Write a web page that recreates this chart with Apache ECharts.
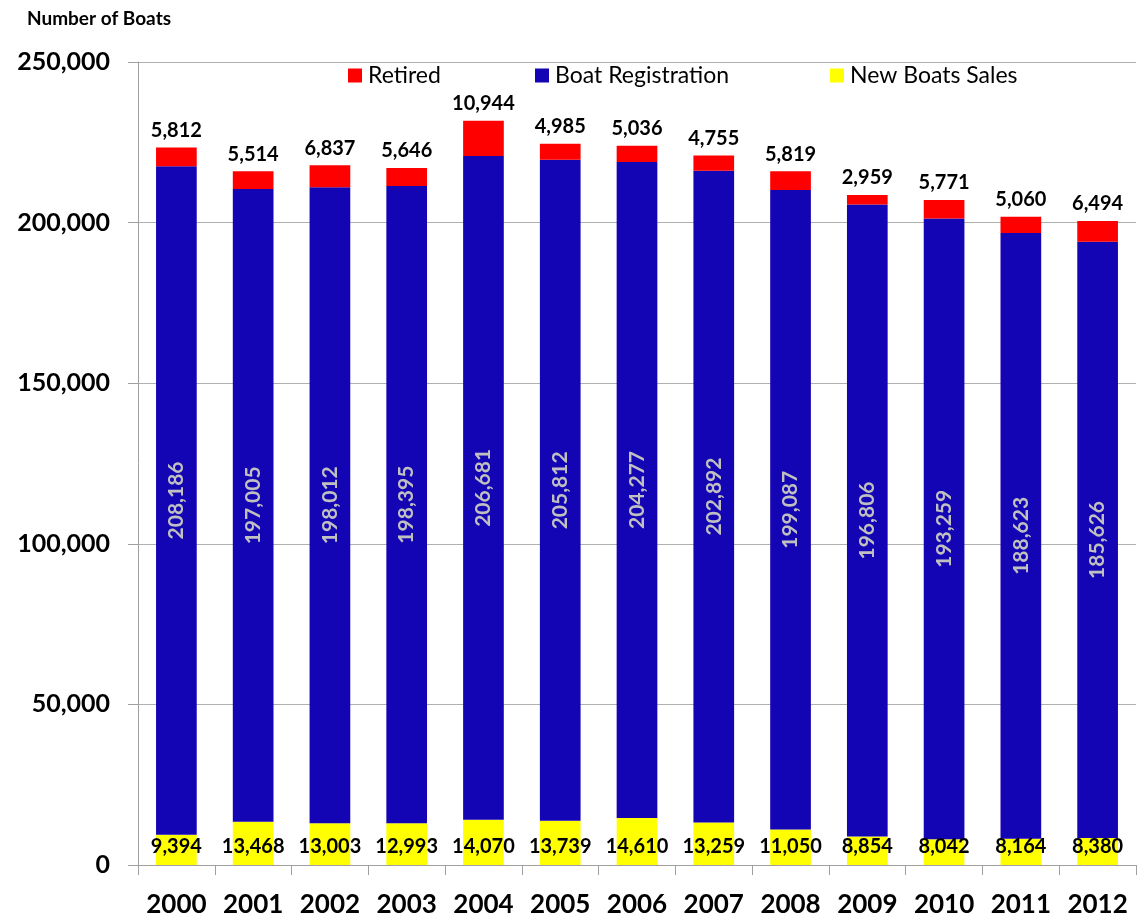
<!DOCTYPE html>
<html><head><meta charset="utf-8">
<script src="https://cdn.jsdelivr.net/npm/echarts@6/dist/echarts.min.js"></script>
<style>html,body{margin:0;padding:0;background:#fff}#c{width:1137px;height:920px}</style>
</head><body><div id="c"></div>
<script>
const years = ['2000','2001','2002','2003','2004','2005','2006','2007','2008','2009','2010','2011','2012'];
const newSales = [9394,13468,13003,12993,14070,13739,14610,13259,11050,8854,8042,8164,8380];
const registration = [208186,197005,198012,198395,206681,205812,204277,202892,199087,196806,193259,188623,185626];
const retired = [5812,5514,6837,5646,10944,4985,5036,4755,5819,2959,5771,5060,6494];
const yTicks = [0,50000,100000,150000,200000,250000];

const FONT = 'Lato, "Open Sans", sans-serif';
const fmt = v => Number(v).toLocaleString('en-US');
const legendText = {fontSize:23,color:'#000',fontFamily:FONT,padding:[0,0,0,1]};
const mkLegend = (name,left) => ({top:59,left:left,itemWidth:14,itemHeight:14,icon:'rect',
  textStyle:legendText,data:[name]});
const chart = echarts.init(document.getElementById('c'));
chart.setOption({
  animation:false,
  textStyle:{fontFamily:FONT},
  title:{text:'Number of Boats',left:22,top:4,textStyle:{fontSize:19,fontWeight:'bold',color:'#000',fontFamily:FONT}},
  legend:[mkLegend('Retired',343),mkLegend('Boat Registration',530),mkLegend('New Boats Sales',825)],
  grid:{left:138,right:1,top:62,bottom:55,containLabel:false},
  xAxis:{type:'category',data:years,
    axisLine:{lineStyle:{color:'#a0a0a0'}},
    axisTick:{show:true,length:10,lineStyle:{color:'#a0a0a0'}},
    axisLabel:{interval:0,hideOverlap:false,fontSize:26,fontWeight:'bold',color:'#000',margin:27,fontFamily:FONT}},
  yAxis:{type:'value',min:yTicks[0],max:yTicks[yTicks.length-1],interval:50000,
    axisLine:{show:true,lineStyle:{color:'#a0a0a0'}},
    axisTick:{show:true,length:10,lineStyle:{color:'#a0a0a0'}},
    splitLine:{lineStyle:{color:'#b0b0b0'}},
    axisLabel:{fontSize:25,fontWeight:'bold',color:'#000',margin:28,formatter:fmt,fontFamily:FONT}},
  series:[
    {name:'New Boats Sales',type:'bar',stack:'s',data:newSales,barWidth:'53%',
     itemStyle:{color:'#ffff00'},
     label:{show:true,position:'insideBottom',distance:8,color:'#000',fontSize:20,fontWeight:'bold',formatter:p=>fmt(p.value),fontFamily:FONT}},
    {name:'Boat Registration',type:'bar',stack:'s',data:registration,
     itemStyle:{color:'#1405b4'},
     label:{show:true,position:'inside',rotate:90,color:'#c0c0c0',fontSize:21,fontWeight:'bold',formatter:p=>fmt(p.value),fontFamily:FONT}},
    {name:'Retired',type:'bar',stack:'s',data:retired,
     itemStyle:{color:'#ff0000'},
     label:{show:true,position:'top',distance:7,color:'#000',fontSize:20,fontWeight:'bold',formatter:p=>fmt(p.value),fontFamily:FONT}}
  ]
});
</script></body></html>
